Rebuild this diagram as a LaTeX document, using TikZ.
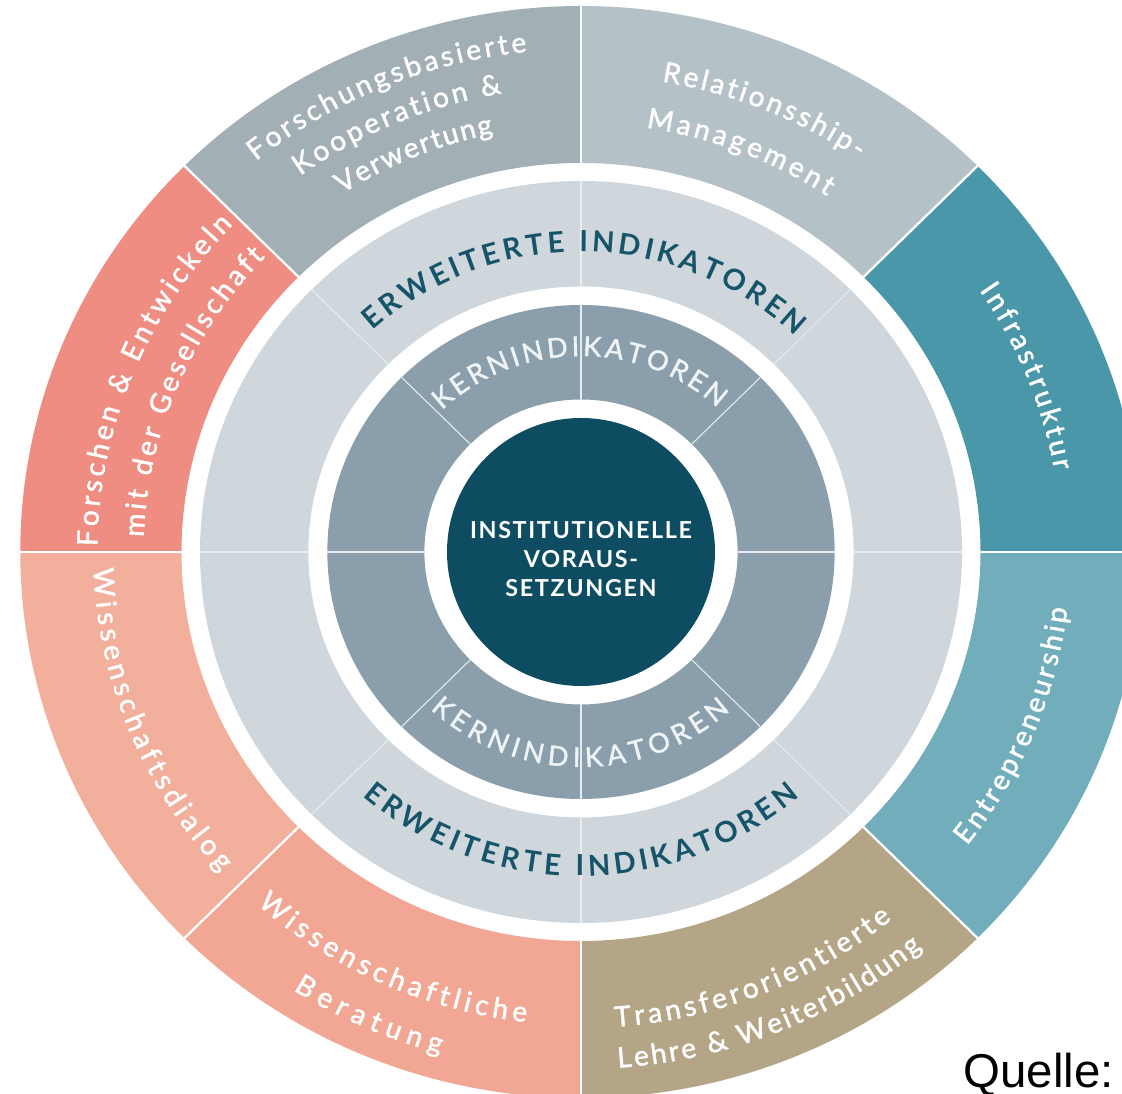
\documentclass[tikz,border=0pt]{standalone}
\usepackage{fontspec}
\setmainfont{Lato}
\newfontfamily\quellefont{Liberation Sans}
\newfontfamily\spacedfont{Lato}[LetterSpace=7]
\newfontfamily\medfont{Lato}[FakeBold=1.6]
\usepackage{tikz}
\usetikzlibrary{decorations.text}

\definecolor{forschungGray}{HTML}{A2AFB5}
\definecolor{relationGray}{HTML}{B4C1C7}
\definecolor{infraTeal}{HTML}{4B97AA}
\definecolor{entreTeal}{HTML}{72ADBB}
\definecolor{transferTan}{HTML}{B4A587}
\definecolor{beratungRose}{HTML}{F1A793}
\definecolor{dialogRose}{HTML}{F2B09C}
\definecolor{gesellRed}{HTML}{EF8D82}
\definecolor{erwGray}{HTML}{CFD7DD}
\definecolor{kernGray}{HTML}{8A9EAB}
\definecolor{coreBlue}{HTML}{0E4D61}
\definecolor{erwText}{HTML}{16546A}
\definecolor{kernText}{HTML}{EEF3F5}
\definecolor{sepLight}{HTML}{E6ECEF}

\newcommand{\kx}{1.027}
\newcommand{\outerfont}{\medfont\fontsize{16}{19}\selectfont}
\newcommand{\erwfont}{\fontsize{16.5}{20}\selectfont\bfseries}
\newcommand{\kernfont}{\medfont\fontsize{15.5}{18}\selectfont}

\newcommand{\ringpart}[5]{\fill[#1] ({\kx*#4*cos(#2)},{#4*sin(#2)}) arc[start angle=#2, end angle=#3, x radius={\kx*#4}, y radius=#4] -- ({\kx*#5*cos(#3)},{#5*sin(#3)}) arc[start angle=#3, end angle=#2, x radius={\kx*#5}, y radius=#5] -- cycle;}
\newcommand{\ringtext}[6]{\path[decorate, decoration={text along path, text align={fit to path}, text color=#2, text={|#1|#6}}] ({\kx*#5*cos(#3)},{#5*sin(#3)}) arc[start angle=#3, end angle=#4, x radius={\kx*#5}, y radius=#5];}

\begin{document}
\begin{tikzpicture}[x=0.02cm,y=0.02cm,
  coretext/.style={text=white, align=center, inner sep=0pt, font=\spacedfont\bfseries\fontsize{13.3}{16.7}\selectfont},
  sepinner/.style={draw=sepLight, line width=0.6pt},
  sepouter/.style={draw=white, line width=1.3pt}]
\clip (0,0) rectangle (1122,1094);
\begin{scope}[shift={(581,542)}]
\ringpart{forschungGray}{90}{135}{389}{546}
\ringpart{relationGray}{45}{90}{389}{546}
\ringpart{infraTeal}{0}{45}{389}{546}
\ringpart{entreTeal}{-45}{0}{389}{546}
\ringpart{transferTan}{-90}{-45}{389}{546}
\ringpart{beratungRose}{-135}{-90}{389}{546}
\ringpart{dialogRose}{180}{225}{389}{546}
\ringpart{gesellRed}{135}{180}{389}{546}
\ringpart{erwGray}{0}{360}{265.5}{371}
\ringpart{kernGray}{0}{360}{152.5}{247}
\fill[coreBlue] (0,0) circle[radius=134];
\foreach \a in {0,45,...,315} {
  \draw[sepinner] ({\kx*265.5*cos(\a)},{265.5*sin(\a)}) -- ({\kx*371*cos(\a)},{371*sin(\a)});
  \draw[sepinner] ({\kx*152.5*cos(\a)},{152.5*sin(\a)}) -- ({\kx*247*cos(\a)},{247*sin(\a)});
  \draw[sepouter] ({\kx*389*cos(\a)},{389*sin(\a)}) -- ({\kx*552*cos(\a)},{552*sin(\a)});
}
\node[coretext] (core) at (0,-7) {INSTITUTIONELLE\\VORAUS-\\SETZUNGEN};

\ringtext{\outerfont}{white}{129}{96}{503}{Forschungsbasierte}
\ringtext{\outerfont}{white}{126}{99.5}{465}{Kooperation {\&}}
\ringtext{\outerfont}{white}{123}{101.5}{427}{Verwertung}
\ringtext{\outerfont}{white}{80.5}{55.5}{477}{Relationsship-}
\ringtext{\outerfont}{white}{81.5}{56}{429}{Management}
\ringtext{\outerfont}{white}{34}{10}{468}{Infrastruktur}
\ringtext{\outerfont}{white}{-38}{-6.8}{477}{Entrepreneurship}
\ringtext{\outerfont}{white}{-86}{-50.5}{476}{Transferorientierte}
\ringtext{\outerfont}{white}{-86}{-50}{517}{Lehre {\&} Weiterbildung}
\ringtext{\outerfont}{white}{228.2}{263.5}{473}{Wissenschaftliche}
\ringtext{\outerfont}{white}{237.4}{254.7}{520}{Beratung}
\ringtext{\outerfont}{white}{182}{222.4}{475}{Wissenschaftsdialog}
\ringtext{\outerfont}{white}{179.3}{136}{471}{Forschen {\&} Entwickeln}
\ringtext{\outerfont}{white}{178}{136.2}{426}{mit der Gesellschaft}

\ringtext{\erwfont}{erwText}{132.5}{46}{300}{ERWEITERTE INDIKATOREN}
\ringtext{\erwfont}{erwText}{229}{311}{324}{ERWEITERTE INDIKATOREN}
\ringtext{\kernfont}{kernText}{133.7}{47.3}{196}{KERNINDIKATOREN}
\ringtext{\kernfont}{kernText}{227}{312.5}{215}{KERNINDIKATOREN}
\end{scope}
\node[anchor=base west, inner sep=0pt, font=\quellefont\fontsize{27}{31}\selectfont] (quelle) at (963,6) {Quelle:};
\end{tikzpicture}
\end{document}
